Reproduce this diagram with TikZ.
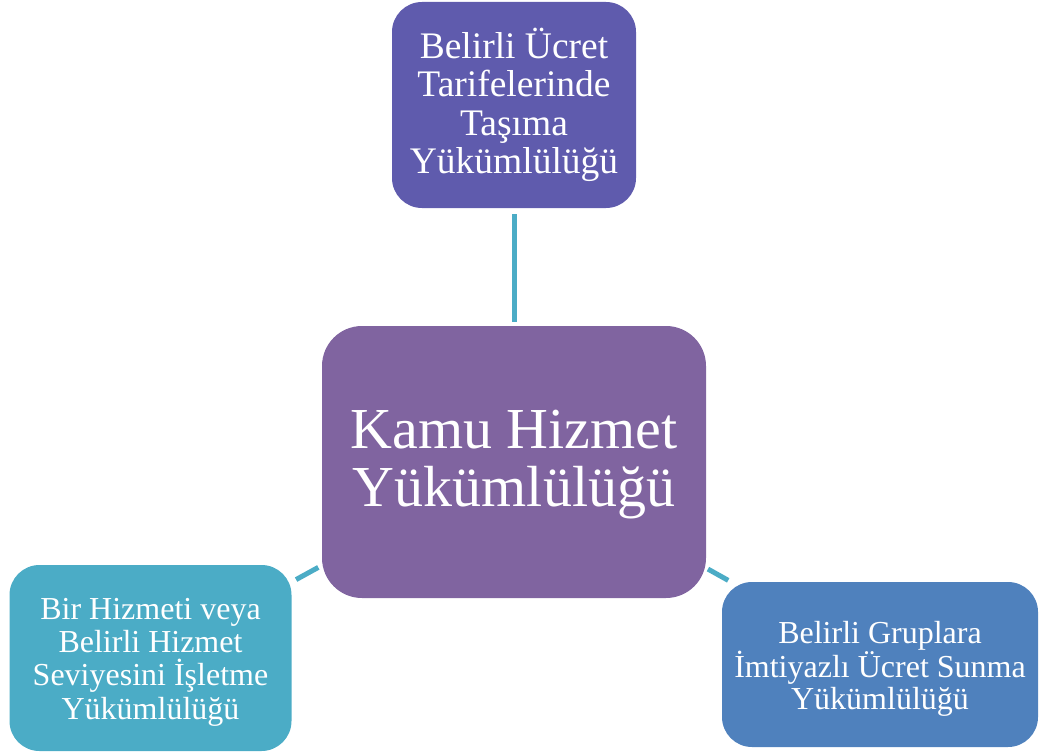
\documentclass[tikz,border=0pt]{standalone}
\usepackage{fontspec}
\setmainfont{Liberation Serif}
\definecolor{topc}{RGB}{95,91,173}
\definecolor{centc}{RGB}{128,100,160}
\definecolor{leftc}{RGB}{75,172,198}
\definecolor{rightc}{RGB}{79,129,189}
\definecolor{linkc}{RGB}{75,172,198}
\begin{document}
\begin{tikzpicture}[x=1pt,y=1pt,
  box/.style={rectangle, rounded corners=30pt, inner sep=0pt},
  txt/.style={text=white, align=center, inner sep=0pt},
  link/.style={draw=linkc, line width=5pt}]
\useasboundingbox (0,0) rectangle (1040,-754);
\node[box, fill=topc, minimum width=244pt, minimum height=206pt] (top) at (514,-105) {};
\node[txt, font=\fontsize{37.5}{38.3}\selectfont] (topT) at (514,-105)
  {Belirli Ücret\\Tarifelerinde\\Taşıma\\Yükümlülüğü};
\node[box, fill=centc, rounded corners=40pt, minimum width=384pt, minimum height=272pt] (cent) at (514,-462) {};
\node[txt, font=\fontsize{58}{58}\selectfont] (centT) at (514,-465)
  {Kamu Hizmet\\Yükümlülüğü};
\node[box, fill=leftc, minimum width=282pt, minimum height=186pt] (left) at (150.5,-658) {};
\node[txt, font=\fontsize{32}{33.3}\selectfont] (leftT) at (150.5,-662)
  {Bir Hizmeti veya\\Belirli Hizmet\\Seviyesini İşletme\\Yükümlülüğü};
\node[box, fill=rightc, minimum width=316pt, minimum height=165pt] (right) at (880,-664.5) {};
\node[txt, font=\fontsize{32}{32.3}\selectfont] (rightT) at (880,-669)
  {Belirli Gruplara\\İmtiyazlı Ücret Sunma\\Yükümlülüğü};
\draw[link, shorten <=4pt, shorten >=6pt] (cent) -- (top);
\draw[link, shorten <=4pt, shorten >=5pt] (cent) -- (left);
\draw[link, shorten <=2pt, shorten >=3pt] (cent) -- (right);
\end{tikzpicture}
\end{document}
